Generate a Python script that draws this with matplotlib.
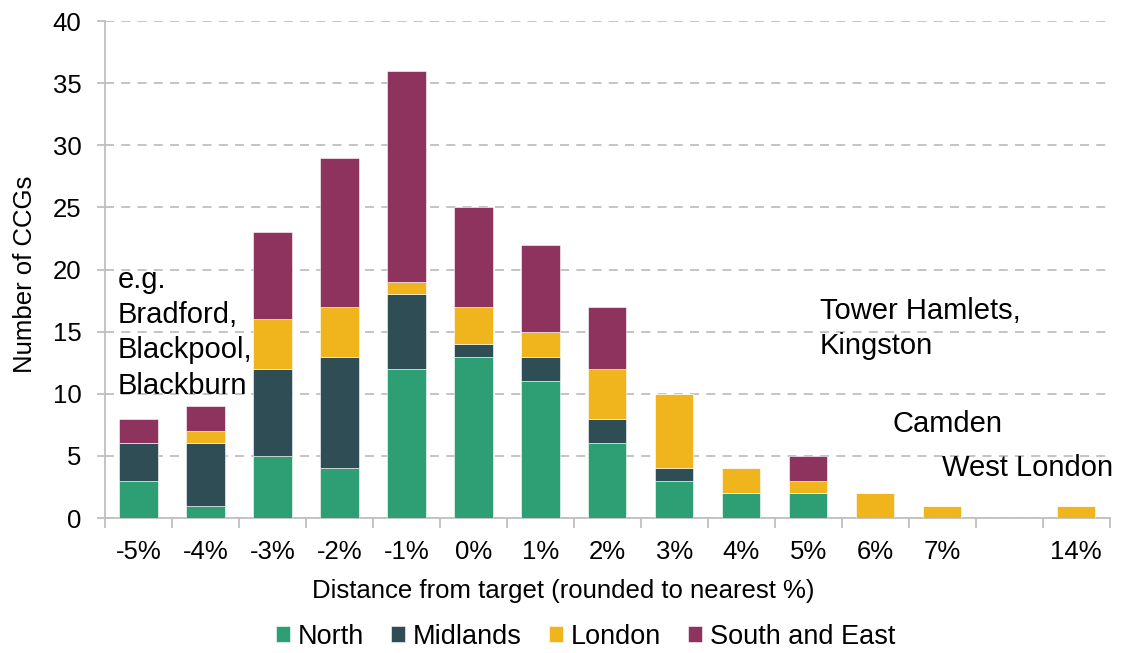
import numpy as np
import matplotlib
matplotlib.use("Agg")
from matplotlib import pyplot as plt

plt.rcParams['font.family'] = ['Liberation Sans', 'DejaVu Sans']

categories = ["-5%", "-4%", "-3%", "-2%", "-1%", "0%", "1%", "2%", "3%",
              "4%", "5%", "6%", "7%", "", "14%"]
north = [3, 1, 5, 4, 12, 13, 11, 6, 3, 2, 2, 0, 0, 0, 0]
midlands = [3, 5, 7, 9, 6, 1, 2, 2, 1, 0, 0, 0, 0, 0, 0]
london = [0, 1, 4, 4, 1, 3, 2, 4, 6, 2, 1, 2, 1, 0, 1]
south_east = [2, 2, 7, 12, 17, 8, 7, 5, 0, 0, 2, 0, 0, 0, 0]

series = [("North", north, "#2e9e74"),
          ("Midlands", midlands, "#2f4d54"),
          ("London", london, "#f0b41c"),
          ("South and East", south_east, "#8e325e")]

fig = plt.figure(figsize=(11.22, 6.53), dpi=100)
ax = fig.add_axes([0.0936, 0.2067, 0.8955, 0.7611])

x = np.arange(len(categories))
bottom = np.zeros(len(categories))
for name, vals, col in series:
    ax.bar(x, vals, 0.57, bottom=bottom, color=col, label=name,
           edgecolor="white", linewidth=0.4, zorder=3)
    bottom += np.array(vals)

ax.set_ylim(0, 40)
ax.set_xlim(-0.5, len(categories) - 0.5)
ax.set_yticks(range(0, 41, 5))
ax.yaxis.grid(True, linestyle=(0, (5, 4)), color="#bfbfbf", linewidth=1.3, zorder=0)

ax.set_xticks(x)
ax.set_xticklabels(categories, fontsize=18.5)
ax.tick_params(axis="x", length=0, pad=16)
ax.set_xticks(np.arange(-0.5, len(categories), 1), minor=True)
ax.tick_params(axis="x", which="minor", length=7, color="#bfbfbf", width=1.3)
ax.tick_params(axis="y", labelsize=18.5, length=6, color="#bfbfbf", width=1.3, pad=11)

for s in ["top", "right"]:
    ax.spines[s].set_visible(False)
for s in ["left", "bottom"]:
    ax.spines[s].set_color("#bfbfbf")
    ax.spines[s].set_linewidth(1.3)

ax.set_ylabel("Number of CCGs", fontsize=18.5)
ax.yaxis.set_label_coords(-0.068, 0.49)
ax.set_xlabel("Distance from target (rounded to nearest %)", fontsize=18.5)
ax.xaxis.set_label_coords(0.456, -0.122)

# annotations (plain text in the reference)
ax.text(-0.31, 20.3, "e.g.\nBradford,\nBlackpool,\nBlackburn", fontsize=21,
        va="top", ha="left", linespacing=1.33)
ax.text(10.17, 17.8, "Tower Hamlets,\nKingston", fontsize=21, va="top", ha="left",
        linespacing=1.33)
ax.text(11.26, 7.6, "Camden", fontsize=21, va="center", ha="left")
ax.text(12.0, 4.0, "West London", fontsize=21, va="center", ha="left")

handles, labels = ax.get_legend_handles_labels()
fig.legend(handles, labels, loc="center", bbox_to_anchor=(0.522, 0.025), ncol=4,
           frameon=False, fontsize=19.5, handlelength=0.5, handleheight=0.5,
           handletextpad=0.3, columnspacing=1.0, borderpad=0)

fig.savefig("out.png", dpi=100)
